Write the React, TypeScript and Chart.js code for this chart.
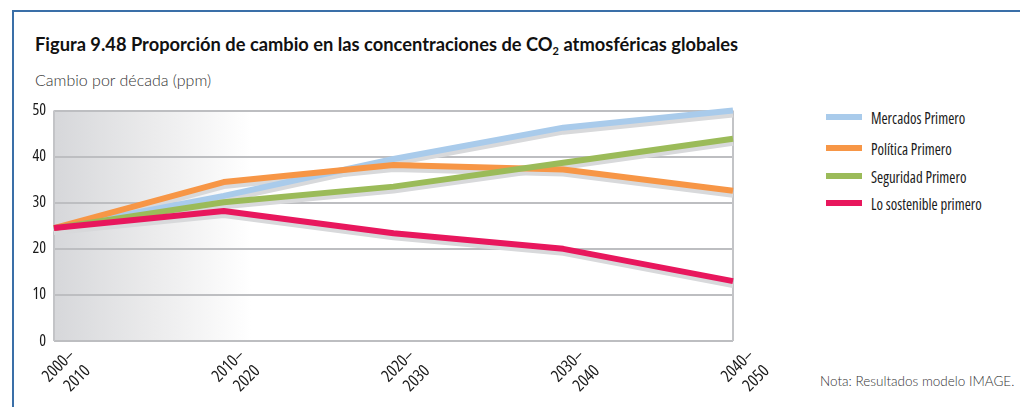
import React, { useEffect, useRef } from "react";
import { Chart, registerables } from "chart.js";

Chart.register(...registerables);

const categories: string[][] = [
  ["2000–", "2010"],
  ["2010–", "2020"],
  ["2020–", "2030"],
  ["2030–", "2040"],
  ["2040–", "2050"],
];
const seriesNames = ["Mercados Primero", "Política Primero", "Seguridad Primero", "Lo sostenible primero"];
const mercados = [24.5, 31.5, 39.5, 46.3, 50];
const politica = [24.5, 34.5, 38.2, 37.2, 32.6];
const seguridad = [24.5, 30.1, 33.5, 38.7, 43.9];
const sostenible = [24.5, 28.2, 23.4, 20, 13];
const yTicks = [0, 10, 20, 30, 40, 50];

const colors = ["#a9cbeb", "#f79646", "#9bbb59", "#e8175d"];
const SHADOW = "#d8d9db";
const COND = "'Open Sans', sans-serif";

const bgPlugin = {
  id: "bgPlugin",
  beforeDraw(chart: any) {
    const { ctx, chartArea: a } = chart;
    const g = ctx.createLinearGradient(a.left, 0, a.left + (a.right - a.left) * 0.29, 0);
    g.addColorStop(0, "#d6d7da");
    g.addColorStop(0.5, "#ebebec");
    g.addColorStop(1, "#ffffff");
    ctx.save();
    ctx.fillStyle = g;
    ctx.fillRect(a.left, a.top, a.right - a.left, a.bottom - a.top);
    ctx.restore();
  },
};

const framePlugin = {
  id: "framePlugin",
  beforeDatasetsDraw(chart: any) {
    const { ctx, chartArea: a } = chart;
    ctx.save();
    ctx.strokeStyle = "#c3c4c7";
    ctx.lineWidth = 2;
    ctx.beginPath();
    ctx.moveTo(a.left, a.top);
    ctx.lineTo(a.left, a.bottom);
    ctx.moveTo(a.right, a.top);
    ctx.lineTo(a.right, a.bottom);
    ctx.stroke();
    ctx.restore();
  },
};

const shadowPlugin = {
  id: "shadowPlugin",
  beforeDatasetDraw(chart: any, args: any) {
    const ds = chart.data.datasets[args.index];
    if (ds.isShadow) {
      chart.ctx.save();
      chart.ctx.translate(0, 4);
    }
  },
  afterDatasetDraw(chart: any, args: any) {
    const ds = chart.data.datasets[args.index];
    if (ds.isShadow) chart.ctx.restore();
  },
};

export default function App() {
  const ref = useRef<HTMLCanvasElement | null>(null);

  useEffect(() => {
    if (!ref.current) return;
    const series = [mercados, politica, seguridad, sostenible];
    const mainOrder = [3, 2, 1, 0];
    const datasets: any[] = [];
    series.forEach((d, i) => {
      datasets.push({
        label: seriesNames[i] + " sombra",
        data: d,
        isShadow: true,
        borderColor: SHADOW,
        borderWidth: 6,
        pointRadius: 0,
        tension: 0,
        clip: false,
        order: 10,
        borderJoinStyle: "round",
      });
    });
    series.forEach((d, i) => {
      datasets.push({
        label: seriesNames[i],
        data: d,
        borderColor: colors[i],
        borderWidth: 6,
        pointRadius: 0,
        tension: 0,
        clip: false,
        order: mainOrder[i],
        borderJoinStyle: "round",
      });
    });

    const chart = new Chart(ref.current, {
      type: "line",
      data: { labels: categories, datasets },
      plugins: [bgPlugin, framePlugin, shadowPlugin],
      options: {
        animation: false,
        responsive: false,
        maintainAspectRatio: false,
        layout: { padding: { top: 3, right: 61, left: 0, bottom: 0 } },
        plugins: { legend: { display: false }, tooltip: { enabled: false } },
        scales: {
          x: {
            offset: false,
            grid: { display: false, drawTicks: false },
            border: { display: false },
            ticks: {
              color: "#1a1a1a",
              font: { family: COND, weight: "semi-condensed" as any, size: 17, lineHeight: 1.3 },
              maxRotation: 45,
              minRotation: 45,
              autoSkip: false,
              padding: 4,
              labelOffset: 18,
            },
            afterFit(scale: any) {
              scale.height = 66;
            },
          },
          y: {
            min: 0,
            max: 50,
            afterBuildTicks(scale: any) {
              scale.ticks = yTicks.map((v) => ({ value: v }));
            },
            grid: { color: "#bdbec1", lineWidth: 2, drawTicks: false },
            border: { display: false },
            ticks: {
              color: "#1a1a1a",
              font: { family: COND, weight: "condensed" as any, size: 16 },
              padding: 8,
            },
            afterFit(scale: any) {
              scale.width = 40;
            },
          },
        },
      },
    });
    return () => chart.destroy();
  }, []);

  const P = (x: number, y: number): React.CSSProperties => ({ position: "absolute", left: x - 8, top: y - 8 });

  return (
    <div style={{ position: "relative", width: 1020, height: 399, overflow: "hidden", background: "#fff" }}>
      <div style={{ position: "absolute", left: 4, top: 2, right: 0, height: 2, background: "#3a6fa8" }} />
      <div style={{ position: "absolute", left: 4, top: 2, bottom: 0, width: 2, background: "#3a6fa8" }} />
      <div
        style={{
          ...P(35, 33),
          fontFamily: "Lato, 'Open Sans', sans-serif",
          fontWeight: 700,
          fontSize: 18.3,
          color: "#111",
          whiteSpace: "nowrap",
        }}
      >
        Figura 9.48 Proporción de cambio en las concentraciones de CO<sub style={{ fontSize: 11, verticalAlign: "-4px", lineHeight: 0 }}>2</sub> atmosféricas globales
      </div>
      <div
        style={{
          ...P(35, 70),
          fontFamily: "Lato, 'Open Sans', sans-serif",
          fontWeight: 300,
          fontSize: 16,
          color: "#333",
          whiteSpace: "nowrap",
        }}
      >
        Cambio por década (ppm)
      </div>
      <canvas ref={ref} width={780} height={314} style={{ ...P(14, 93), width: 780, height: 314 }} />
      {seriesNames.map((n, i) => (
        <div key={n} style={{ ...P(826, 109 + [0, 31, 59, 86][i]), display: "flex", alignItems: "center", height: 16 }}>
          <div style={{ width: 36, height: 6, background: colors[i] }} />
          <div
            style={{
              marginLeft: 9,
              fontFamily: COND,
              fontStretch: "condensed",
              fontSize: 17,
              color: "#1a1a1a",
              whiteSpace: "nowrap",
              transform: "scaleX(0.87)",
              transformOrigin: "left center",
            }}
          >
            {n}
          </div>
        </div>
      ))}
      <div
        style={{
          ...P(820, 373),
          fontFamily: "Lato, 'Open Sans', sans-serif",
          fontWeight: 300,
          fontSize: 13.5,
          color: "#333",
          whiteSpace: "nowrap",
        }}
      >
        Nota: Resultados modelo IMAGE.
      </div>
    </div>
  );
}
